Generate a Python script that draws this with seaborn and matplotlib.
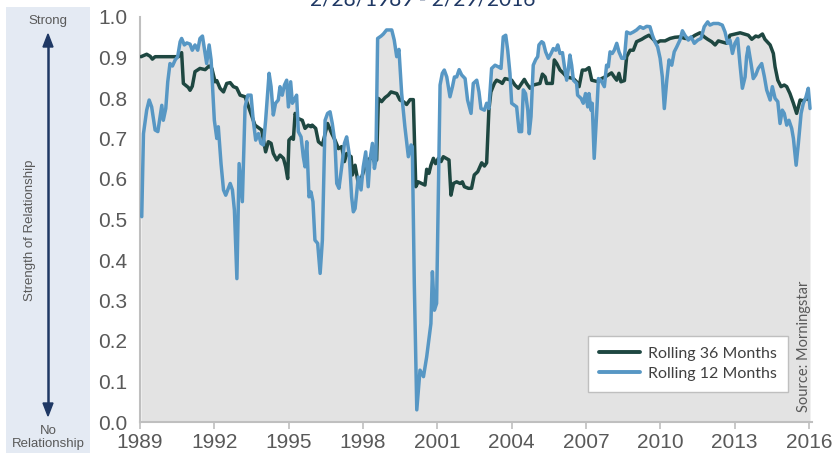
import numpy as np
import pandas as pd
import matplotlib.pyplot as plt
from matplotlib.patches import Rectangle
import seaborn as sns

# Rolling correlation (decimal year, value)
years_36 = [1989.04, 1989.27, 1989.41, 1989.50, 1989.61, 1990.55, 1990.68, 1990.75, 1990.95, 1991.02,
            1991.11, 1991.22, 1991.42, 1991.63, 1991.79, 1991.90, 1992.03, 1992.10, 1992.23, 1992.37,
            1992.50, 1992.64, 1992.77, 1992.90, 1993.04, 1993.24, 1993.64, 1993.91, 1994.07, 1994.18,
            1994.29, 1994.38, 1994.52, 1994.65, 1994.79, 1994.88, 1994.96, 1995.01, 1995.12, 1995.19,
            1995.26, 1995.36, 1995.55, 1995.66, 1995.79, 1995.90, 1995.95, 1996.09, 1996.20, 1996.36,
            1996.57, 1996.74, 1996.87, 1997.01, 1997.14, 1997.25, 1997.34, 1997.52, 1997.57, 1997.68,
            1997.81, 1997.95, 1998.08, 1998.21, 1998.35, 1998.46, 1998.55, 1998.62, 1998.75, 1998.89,
            1999.02, 1999.13, 1999.36, 1999.49, 1999.63, 1999.76, 1999.90, 2000.03, 2000.13, 2000.23,
            2000.37, 2000.50, 2000.57, 2000.66, 2000.74, 2000.84, 2000.93, 2001.04, 2001.15, 2001.24,
            2001.47, 2001.55, 2001.65, 2001.78, 2001.92, 2002.01, 2002.09, 2002.25, 2002.38, 2002.49,
            2002.63, 2002.79, 2002.90, 2002.99, 2003.08, 2003.16, 2003.30, 2003.39, 2003.53, 2003.62,
            2003.73, 2004.00, 2004.13, 2004.27, 2004.40, 2004.51, 2004.60, 2004.74, 2004.87, 2005.14,
            2005.24, 2005.35, 2005.41, 2005.64, 2005.72, 2005.82, 2005.95, 2006.09, 2006.22, 2006.49,
            2006.62, 2006.72, 2006.85, 2006.98, 2007.12, 2007.23, 2007.50, 2007.63, 2007.77, 2007.90,
            2008.03, 2008.14, 2008.24, 2008.33, 2008.41, 2008.55, 2008.64, 2008.78, 2008.91, 2009.04,
            2009.25, 2009.38, 2009.54, 2009.68, 2009.85, 2009.99, 2010.19, 2010.39, 2010.59, 2010.79,
            2011.00, 2011.20, 2011.40, 2011.60, 2011.77, 2011.91, 2012.07, 2012.21, 2012.34, 2012.68,
            2012.81, 2013.01, 2013.22, 2013.39, 2013.55, 2013.69, 2013.85, 2013.96, 2014.12, 2014.22,
            2014.43, 2014.56, 2014.63, 2014.74, 2014.87, 2015.00, 2015.10, 2015.23, 2015.37, 2015.50,
            2015.57, 2015.64, 2015.77, 2015.91, 2016.00]
corr_36 = [0.902, 0.908, 0.903, 0.896, 0.902, 0.902, 0.912, 0.836, 0.826, 0.819,
           0.829, 0.865, 0.873, 0.870, 0.879, 0.873, 0.840, 0.843, 0.824, 0.815,
           0.836, 0.838, 0.828, 0.825, 0.807, 0.803, 0.733, 0.721, 0.667, 0.692,
           0.688, 0.663, 0.647, 0.659, 0.651, 0.630, 0.601, 0.696, 0.703, 0.698,
           0.762, 0.750, 0.745, 0.725, 0.733, 0.729, 0.733, 0.725, 0.692, 0.684,
           0.737, 0.712, 0.696, 0.675, 0.680, 0.643, 0.663, 0.655, 0.610, 0.634,
           0.589, 0.605, 0.630, 0.647, 0.655, 0.643, 0.647, 0.799, 0.791, 0.801,
           0.807, 0.815, 0.811, 0.795, 0.791, 0.784, 0.796, 0.796, 0.581, 0.593,
           0.589, 0.585, 0.624, 0.614, 0.634, 0.651, 0.638, 0.651, 0.643, 0.655,
           0.647, 0.560, 0.589, 0.593, 0.589, 0.593, 0.581, 0.577, 0.577, 0.610,
           0.618, 0.640, 0.632, 0.640, 0.770, 0.815, 0.836, 0.844, 0.840, 0.836,
           0.848, 0.844, 0.832, 0.824, 0.836, 0.846, 0.836, 0.824, 0.832, 0.836,
           0.859, 0.852, 0.836, 0.836, 0.894, 0.885, 0.869, 0.861, 0.852, 0.848,
           0.840, 0.828, 0.869, 0.869, 0.875, 0.844, 0.840, 0.848, 0.852, 0.857,
           0.862, 0.852, 0.844, 0.861, 0.840, 0.843, 0.902, 0.918, 0.918, 0.939,
           0.945, 0.950, 0.955, 0.947, 0.936, 0.941, 0.941, 0.947, 0.950, 0.951,
           0.947, 0.947, 0.955, 0.961, 0.951, 0.945, 0.939, 0.931, 0.941, 0.935,
           0.955, 0.958, 0.961, 0.958, 0.955, 0.945, 0.953, 0.951, 0.958, 0.945,
           0.931, 0.910, 0.877, 0.844, 0.828, 0.832, 0.828, 0.811, 0.787, 0.762,
           0.778, 0.795, 0.793, 0.799, 0.795]

years_12 = [1989.07, 1989.14, 1989.27, 1989.37, 1989.47, 1989.61, 1989.72, 1989.81, 1989.88, 1989.94,
            1990.04, 1990.12, 1990.21, 1990.31, 1990.42, 1990.52, 1990.62, 1990.68, 1990.79, 1990.89,
            1991.02, 1991.11, 1991.22, 1991.33, 1991.42, 1991.52, 1991.63, 1991.69, 1991.79, 1991.87,
            1992.00, 1992.10, 1992.16, 1992.27, 1992.37, 1992.46, 1992.64, 1992.73, 1992.81, 1992.91,
            1993.00, 1993.13, 1993.24, 1993.35, 1993.48, 1993.57, 1993.67, 1993.78, 1993.88, 1993.98,
            1994.07, 1994.21, 1994.29, 1994.38, 1994.47, 1994.58, 1994.65, 1994.74, 1994.83, 1994.92,
            1994.99, 1995.08, 1995.15, 1995.26, 1995.32, 1995.39, 1995.50, 1995.59, 1995.66, 1995.73,
            1995.82, 1995.90, 1995.98, 1996.06, 1996.17, 1996.27, 1996.36, 1996.47, 1996.57, 1996.67,
            1996.76, 1996.87, 1996.94, 1997.03, 1997.14, 1997.25, 1997.34, 1997.44, 1997.54, 1997.61,
            1997.68, 1997.81, 1997.92, 1998.01, 1998.11, 1998.21, 1998.28, 1998.38, 1998.46, 1998.52,
            1998.59, 1998.73, 1998.82, 1998.95, 1999.16, 1999.26, 1999.36, 1999.45, 1999.56, 1999.69,
            1999.83, 1999.94, 1999.99, 2000.07, 2000.17, 2000.30, 2000.44, 2000.57, 2000.74, 2000.80,
            2000.88, 2000.97, 2001.04, 2001.11, 2001.20, 2001.28, 2001.38, 2001.51, 2001.61, 2001.69,
            2001.78, 2001.88, 2001.98, 2002.12, 2002.22, 2002.36, 2002.45, 2002.59, 2002.68, 2002.76,
            2002.90, 2002.99, 2003.08, 2003.19, 2003.33, 2003.46, 2003.57, 2003.66, 2003.76, 2003.84,
            2003.93, 2004.00, 2004.20, 2004.30, 2004.40, 2004.47, 2004.56, 2004.65, 2004.71, 2004.78,
            2004.87, 2004.97, 2005.05, 2005.10, 2005.21, 2005.28, 2005.37, 2005.48, 2005.59, 2005.68,
            2005.78, 2005.86, 2005.95, 2006.05, 2006.13, 2006.22, 2006.29, 2006.35, 2006.42, 2006.49,
            2006.62, 2006.66, 2006.80, 2006.89, 2006.98, 2007.07, 2007.12, 2007.20, 2007.25, 2007.33,
            2007.43, 2007.50, 2007.60, 2007.74, 2007.83, 2007.90, 2007.97, 2008.06, 2008.14, 2008.24,
            2008.33, 2008.44, 2008.55, 2008.64, 2008.78, 2008.91, 2009.04, 2009.18, 2009.31, 2009.45,
            2009.58, 2009.68, 2009.78, 2009.89, 2009.99, 2010.08, 2010.16, 2010.26, 2010.35, 2010.46,
            2010.56, 2010.66, 2010.79, 2010.89, 2010.99, 2011.13, 2011.24, 2011.37, 2011.51, 2011.64,
            2011.77, 2011.91, 2012.00, 2012.14, 2012.34, 2012.50, 2012.61, 2012.72, 2012.81, 2012.91,
            2013.01, 2013.12, 2013.21, 2013.31, 2013.42, 2013.48, 2013.55, 2013.66, 2013.75, 2013.85,
            2013.95, 2014.09, 2014.20, 2014.29, 2014.43, 2014.52, 2014.63, 2014.74, 2014.83, 2014.92,
            2015.00, 2015.10, 2015.19, 2015.30, 2015.37, 2015.48, 2015.57, 2015.68, 2015.77, 2015.87,
            2015.97, 2016.04]
corr_12 = [0.507, 0.712, 0.770, 0.795, 0.778, 0.721, 0.717, 0.754, 0.782, 0.745,
           0.774, 0.840, 0.885, 0.879, 0.894, 0.902, 0.939, 0.947, 0.931, 0.936,
           0.933, 0.918, 0.931, 0.918, 0.947, 0.953, 0.910, 0.885, 0.931, 0.894,
           0.745, 0.700, 0.729, 0.638, 0.573, 0.560, 0.589, 0.573, 0.523, 0.354,
           0.638, 0.544, 0.778, 0.807, 0.807, 0.745, 0.696, 0.712, 0.688, 0.684,
           0.745, 0.861, 0.828, 0.758, 0.787, 0.795, 0.828, 0.807, 0.832, 0.844,
           0.778, 0.840, 0.787, 0.799, 0.807, 0.717, 0.704, 0.655, 0.630, 0.692,
           0.556, 0.568, 0.544, 0.449, 0.441, 0.367, 0.449, 0.745, 0.762, 0.766,
           0.737, 0.688, 0.589, 0.577, 0.630, 0.688, 0.704, 0.663, 0.556, 0.519,
           0.527, 0.605, 0.573, 0.630, 0.667, 0.581, 0.647, 0.688, 0.626, 0.647,
           0.947, 0.953, 0.958, 0.968, 0.968, 0.943, 0.902, 0.920, 0.811, 0.729,
           0.655, 0.684, 0.680, 0.342, 0.030, 0.128, 0.112, 0.161, 0.243, 0.371,
           0.276, 0.293, 0.556, 0.832, 0.861, 0.869, 0.852, 0.803, 0.828, 0.852,
           0.852, 0.870, 0.857, 0.848, 0.795, 0.762, 0.836, 0.844, 0.815, 0.774,
           0.770, 0.787, 0.774, 0.873, 0.881, 0.877, 0.873, 0.951, 0.955, 0.918,
           0.861, 0.787, 0.778, 0.717, 0.717, 0.820, 0.811, 0.770, 0.712, 0.754,
           0.881, 0.895, 0.902, 0.931, 0.939, 0.936, 0.914, 0.898, 0.910, 0.922,
           0.918, 0.931, 0.910, 0.912, 0.877, 0.844, 0.873, 0.906, 0.881, 0.844,
           0.836, 0.807, 0.799, 0.787, 0.811, 0.778, 0.811, 0.770, 0.787, 0.651,
           0.762, 0.848, 0.844, 0.828, 0.881, 0.877, 0.914, 0.910, 0.918, 0.935,
           0.914, 0.898, 0.898, 0.963, 0.959, 0.963, 0.968, 0.976, 0.972, 0.977,
           0.976, 0.955, 0.939, 0.926, 0.898, 0.852, 0.774, 0.844, 0.894, 0.881,
           0.914, 0.926, 0.943, 0.966, 0.955, 0.943, 0.951, 0.935, 0.943, 0.947,
           0.976, 0.988, 0.980, 0.984, 0.984, 0.980, 0.963, 0.935, 0.943, 0.910,
           0.935, 0.947, 0.885, 0.824, 0.852, 0.902, 0.926, 0.885, 0.848, 0.857,
           0.873, 0.885, 0.852, 0.820, 0.795, 0.828, 0.799, 0.791, 0.737, 0.770,
           0.762, 0.733, 0.745, 0.725, 0.700, 0.634, 0.688, 0.762, 0.787, 0.801,
           0.824, 0.774]

labels = ["Rolling 36 Months", "Rolling 12 Months"]
colors = ["#1E4741", "#5797C4"]
year_ticks = list(range(1989, 2017, 3))
y_ticks = [0.0, 0.1, 0.2, 0.3, 0.4, 0.5, 0.6, 0.7, 0.8, 0.9, 1.0]
title = "2/28/1989 - 2/29/2016"

df = pd.concat([
    pd.DataFrame({"year": years_36, "corr": corr_36, "series": labels[0]}),
    pd.DataFrame({"year": years_12, "corr": corr_12, "series": labels[1]}),
])

sns.set_style("white")
plt.rcParams["font.family"] = ["Liberation Sans", "DejaVu Sans"]

fig = plt.figure(figsize=(8.34, 4.53), dpi=100)
ax = fig.add_axes([140 / 834, 1 - 422 / 453, 672 / 834, 405 / 453])

# grey area under both series
for yrs, vals in [(years_36, corr_36), (years_12, corr_12)]:
    ax.fill_between(yrs, 0, vals, color="#E3E3E3", lw=0, zorder=1)

sns.lineplot(data=df, x="year", y="corr", hue="series", hue_order=labels,
             palette=dict(zip(labels, colors)), estimator=None, sort=True,
             linewidth=2.5, ax=ax, zorder=3)

ax.set_xlim(1989, 2016.12)
ax.set_ylim(0, 1)
ax.set_xticks(year_ticks)
ax.set_xticklabels([str(y) for y in year_ticks])
ax.set_yticks(y_ticks)
ax.set_yticklabels(["{:.1f}".format(v) for v in y_ticks])
ax.set_xlabel("")
ax.set_ylabel("")
ax.tick_params(axis="x", length=5, width=1.2, color="#BFBFBF", direction="out",
               labelsize=15, labelcolor="#595959", pad=3, bottom=True)
ax.tick_params(axis="y", length=0, labelsize=15, labelcolor="#595959", pad=9)
for side in ["top", "right"]:
    ax.spines[side].set_visible(False)
for side in ["left", "bottom"]:
    ax.spines[side].set_color("#BFBFBF")
    ax.spines[side].set_linewidth(1.5)

leg = ax.legend(loc="lower right", bbox_to_anchor=(0.965, 0.074), borderaxespad=0,
                frameon=True, fancybox=False, framealpha=1, edgecolor="#BFBFBF",
                handlelength=2.6, handletextpad=0.5, labelspacing=0.35,
                borderpad=0.7, prop={"family": "Lato", "size": 11.5})
for line in leg.get_lines():
    line.set_linewidth(2.8)
for t in leg.get_texts():
    t.set_color("#404040")

fig.text(804 / 834, 1 - 412 / 453, "Source: Morningstar", rotation=90, ha="center",
         va="bottom", fontsize=10.5, color="#595959", family="Lato")

# date range heading, clipped at the top edge like the original
fig.text(423 / 834, 1 - 6 / 453, title, ha="center", va="baseline", fontsize=15,
         color="#1F3864", family="Lato")

# left "strength of relationship" panel
fig.patches.append(Rectangle((6 / 834, 0), 84 / 834, 1 - 7 / 453, transform=fig.transFigure,
                             facecolor="#E4EAF3", edgecolor="none", zorder=0))
fig.text(48 / 834, 1 - 21 / 453, "Strong", ha="center", va="center", fontsize=9.5, color="#595959")
fig.text(48 / 834, 1 - 431 / 453, "No", ha="center", va="center", fontsize=9.5, color="#595959")
fig.text(48 / 834, 1 - 444 / 453, "Relationship", ha="center", va="center", fontsize=9.5, color="#595959")
fig.text(30 / 834, 1 - 230 / 453, "Strength of Relationship", ha="center", va="center",
         rotation=90, fontsize=9.5, color="#595959")
fig.add_artist(plt.Line2D([48 / 834, 48 / 834], [1 - 45 / 453, 1 - 405 / 453],
                          color="#1F3864", lw=1.8))
fig.patches.append(plt.Polygon([(48 / 834, 1 - 34 / 453), (43 / 834, 1 - 47 / 453), (53 / 834, 1 - 47 / 453)],
                               closed=True, transform=fig.transFigure, color="#1F3864"))
fig.patches.append(plt.Polygon([(48 / 834, 1 - 416 / 453), (43 / 834, 1 - 403 / 453), (53 / 834, 1 - 403 / 453)],
                               closed=True, transform=fig.transFigure, color="#1F3864"))

fig.savefig("out.png", dpi=100)
